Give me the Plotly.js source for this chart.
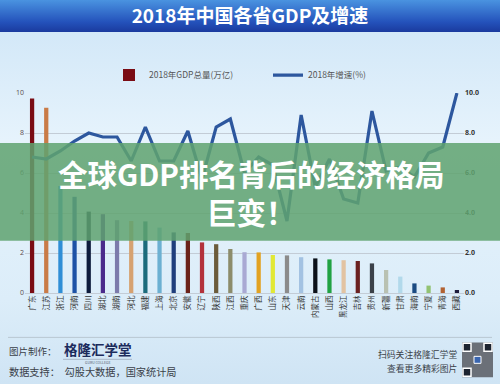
<!DOCTYPE html>
<html>
<head>
<meta charset="utf-8">
<script src="https://cdn.plot.ly/plotly-3.0.1.min.js"></script>
<style>
html,body{margin:0;padding:0;}
#wrap{position:relative;width:500px;height:384px;overflow:hidden;
background:linear-gradient(180deg,#4a93e0 0px,#2452bb 22px,#1a3a9e 32px,#d3e8f8 32px,#e6f3fc 140px,#dcedf9 300px,#cfe4f4 384px);}
#chart{position:absolute;left:0;top:0;width:500px;height:384px;}
</style>
</head>
<body>
<div id="wrap"><div id="chart"></div></div>
<script>
// ---- data ----
const provinces = ['广东','江苏','浙江','河南','四川','湖北','湖南','河北','福建','上海','北京','安徽','辽宁','陕西','江西','重庆','广西','山东','天津','云南','内蒙古','山西','黑龙江','吉林','贵州','新疆','甘肃','海南','宁夏','青海','西藏'];
const gdp = [9.73,9.26,5.35,4.81,4.07,3.94,3.64,3.60,3.58,3.27,3.03,3.00,2.53,2.44,2.20,2.04,2.03,1.90,1.88,1.79,1.73,1.68,1.64,1.60,1.48,1.15,0.82,0.48,0.37,0.28,0.15];
const growth = [6.8,6.7,7.1,7.6,8.0,7.8,7.8,6.6,8.3,6.6,6.6,8.1,5.7,8.3,8.7,6.0,6.8,6.4,3.6,8.9,5.3,6.7,4.7,4.5,9.1,6.1,6.3,5.8,7.0,7.3,10.0];
const barColors = ['#7a0c14','#c97b47','#2f8ed6','#1d52a6','#0d1b3c','#4b2a8c','#7c7aab','#d6a271','#1b6b7c','#6cb0d2','#1f3e7c','#6b2219','#b3323c','#6b5b3b','#8c8c6b','#a9a9d3','#e2a222','#e1e835','#8b8b8b','#a3c2e2','#0b1119','#21a243','#e2c3a2','#6b2121','#3b4149','#b9c1b2','#b2d9eb','#1b4b82','#92c272','#b26232','#1b1b3b'];
const gdpName = '2018年GDP总量(万亿)';
const growthName = '2018年增速(%)';
const yTicks = [0,2,4,6,8,10];

// ---- geometry helpers (pixels -> paper) ----
const W=500,H=384,L=25,R=464,T=93,B=293.5;
const px=p=>(p-L)/(R-L);
const py=p=>(B-p)/(B-T);
const CJK='"Noto Sans CJK SC","Noto Sans",sans-serif';

const traces = [
  {type:'bar', x:provinces, y:gdp, name:gdpName, marker:{color:barColors}, legend:'legend', hoverinfo:'x+y'},
  {type:'scatter', mode:'lines', x:provinces, y:growth, name:growthName, yaxis:'y2', legend:'legend2',
   line:{color:'#2d579e', width:3.2}}
];

const shapes = [
  // green banner overlay
  {type:'rect', xref:'paper', yref:'paper', x0:px(0), x1:px(W), y0:py(241), y1:py(143), layer:'above',
   line:{width:0}, fillcolor:'rgba(96,163,112,0.86)'},
  // footer separator
  {type:'line', xref:'paper', yref:'paper', x0:px(8), x1:px(492), y0:py(338), y1:py(338), layer:'below',
   line:{color:'#b9c6d2', width:1}},
  // logo underline
  {type:'line', xref:'paper', yref:'paper', x0:px(63), x1:px(132), y0:py(360), y1:py(360), layer:'below',
   line:{color:'#8a96a8', width:0.6}},
  // QR code block
  {type:'rect', xref:'paper', yref:'paper', x0:px(462), x1:px(493), y0:py(378), y1:py(343), layer:'below',
   line:{width:0}, fillcolor:'#6b7078'},
  {type:'rect', xref:'paper', yref:'paper', x0:px(463), x1:px(471), y0:py(352), y1:py(344), layer:'below',
   line:{color:'#ffffff', width:1.5}, fillcolor:'#1d2430'},
  {type:'rect', xref:'paper', yref:'paper', x0:px(484), x1:px(492), y0:py(352), y1:py(344), layer:'below',
   line:{color:'#ffffff', width:1.5}, fillcolor:'#1d2430'},
  {type:'rect', xref:'paper', yref:'paper', x0:px(463), x1:px(471), y0:py(377), y1:py(369), layer:'below',
   line:{color:'#ffffff', width:1.5}, fillcolor:'#1d2430'},
  {type:'rect', xref:'paper', yref:'paper', x0:px(474), x1:px(481), y0:py(364), y1:py(357), layer:'below',
   line:{color:'#ffffff', width:1}, fillcolor:'#3a66b0'}
];

const ann = (text,x,y,size,color,xa,extra)=>Object.assign({text:text, xref:'paper', yref:'paper', x:px(x), y:py(y),
  xanchor:xa||'left', yanchor:'middle', showarrow:false, font:{family:CJK, size:size, color:color}}, extra||{});

const annotations = [
  ann('<b>全球GDP排名背后的经济格局<br>巨变！</b>',251,192,29.5,'#ffffff','center'),
  ann('图片制作：',7,352,9.5,'#3a3f48','left'),
  ann('<b>格隆汇学堂</b>',62,350,13.5,'#1c2b5c','left'),
  ann('GURU COLLEGE',98,363,3.5,'#556070','center'),
  ann('数据支持：  勾股大数据，国家统计局',7,372,10.2,'#3a3f48','left'),
  ann('扫码关注格隆汇学堂',459,355,8.8,'#3a3f48','right'),
  ann('查看更多精彩图片',459,369,8.8,'#3a3f48','right')
];

const layout = {
  width:W, height:H,
  margin:{l:L, r:W-R, t:T, b:H-B, pad:0},
  paper_bgcolor:'rgba(0,0,0,0)', plot_bgcolor:'rgba(0,0,0,0)',
  font:{family:CJK, color:'#444'},
  title:{text:'<b>2018年中国各省GDP及增速</b>', font:{family:CJK, size:19, color:'#ffffff'},
         xref:'container', yref:'container', x:0.5, y:1-16/H, xanchor:'center', yanchor:'middle'},
  bargap:0.7,
  showlegend:true,
  legend:{orientation:'h', x:px(109), y:py(75), xanchor:'left', yanchor:'middle', bgcolor:'rgba(0,0,0,0)',
          font:{family:CJK, size:8.5, color:'#555'}},
  legend2:{orientation:'h', x:px(268), y:py(75), xanchor:'left', yanchor:'middle', bgcolor:'rgba(0,0,0,0)',
          font:{family:CJK, size:8.5, color:'#555'}},
  xaxis:{type:'category', tickangle:-90, tickfont:{family:CJK, size:7.5, color:'#333'},
         showgrid:false, zeroline:false, showline:false, ticks:'', automargin:false},
  yaxis:{range:[0,10], tickvals:yTicks, tickfont:{size:7, color:'#5a4a4a', family:'Open Sans'},
         showgrid:true, gridcolor:'#c3ccd6', gridwidth:1, zeroline:true, zerolinecolor:'#c3ccd6',
         showline:false, ticks:'', automargin:false, fixedrange:true},
  yaxis2:{range:[0,10], overlaying:'y', side:'right', tickvals:yTicks, ticksuffix:'%', tickformat:'.1f',
         tickfont:{size:7, color:'#333', family:'Open Sans', weight:'bold'}, showgrid:false, zeroline:false,
         showline:false, ticks:'', automargin:false},
  shapes:shapes,
  annotations:annotations
};

Plotly.newPlot('chart', traces, layout, {displayModeBar:false, staticPlot:true});
</script>
</body>
</html>
